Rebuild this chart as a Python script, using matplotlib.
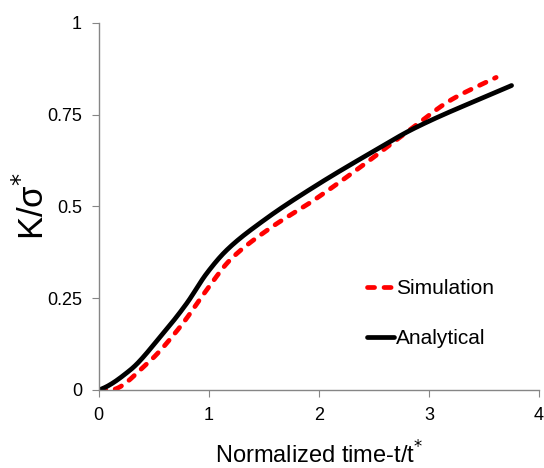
import numpy as np
import matplotlib.pyplot as plt

plt.rcParams['font.family'] = ['Liberation Sans', 'DejaVu Sans']

# values
t_sim = [0.0, 0.1, 0.44, 0.74, 0.98, 1.19, 1.53, 1.95, 2.40, 2.86, 3.19, 3.61]
k_sim = [0.0, 0.0, 0.072, 0.172, 0.272, 0.353, 0.435, 0.516, 0.612, 0.716, 0.788, 0.851]

t_ana = [0.0, 0.285, 0.56, 0.80, 0.98, 1.16, 1.50, 1.95, 2.56, 2.83, 3.75]
k_ana = [0.0, 0.054, 0.145, 0.236, 0.317, 0.38, 0.462, 0.552, 0.661, 0.707, 0.829]

x_ticks = [0, 1, 2, 3, 4]
y_ticks = [0, 0.25, 0.5, 0.75, 1]
y_labels = ['0', '0.25', '0.5', '0.75', '1']


def pchip(xs, ys, n=400):
    # monotone cubic through the read points (Fritsch-Carlson)
    x = np.asarray(xs, float)
    y = np.asarray(ys, float)
    h = np.diff(x)
    d = np.diff(y) / h
    m = np.zeros_like(x)
    for i in range(1, len(x) - 1):
        if d[i - 1] * d[i] > 0:
            w1 = 2 * h[i] + h[i - 1]
            w2 = h[i] + 2 * h[i - 1]
            m[i] = (w1 + w2) / (w1 / d[i - 1] + w2 / d[i])
    m[0] = 0.0 if d[0] == 0 else d[0] * 0.5
    m[-1] = d[-1]
    xx = np.linspace(x[0], x[-1], n)
    idx = np.clip(np.searchsorted(x, xx) - 1, 0, len(x) - 2)
    t = (xx - x[idx]) / h[idx]
    h00 = 2 * t**3 - 3 * t**2 + 1
    h10 = t**3 - 2 * t**2 + t
    h01 = -2 * t**3 + 3 * t**2
    h11 = t**3 - t**2
    yy = (h00 * y[idx] + h10 * h[idx] * m[idx]
          + h01 * y[idx + 1] + h11 * h[idx] * m[idx + 1])
    return xx, yy


fig = plt.figure(figsize=(5.44, 4.68), dpi=100)
ax = fig.add_axes([0.1814, 0.1667, 0.8096, 0.7848])

sx, sy = pchip(t_sim, k_sim)
ax.plot(sx, sy, color='#ff0000', lw=3.4, ls=(0, (1.5, 2.0)),
        dash_capstyle='round', label='Simulation')
bx, by = pchip(t_ana, k_ana)
ax.plot(bx, by, color='black', lw=3.4, solid_capstyle='round', label='Analytical')

ax.set_xlim(0, 4)
ax.set_ylim(0, 1)
ax.set_xticks(x_ticks)
ax.set_yticks(y_ticks)
ax.set_yticklabels(y_labels)
ax.tick_params(direction='out', length=5, color='#868686', labelsize=13, pad=7)

for side in ('top', 'right'):
    ax.spines[side].set_visible(False)
for side in ('left', 'bottom'):
    ax.spines[side].set_color('#868686')
    ax.spines[side].set_linewidth(1)

ax.set_xlabel('Normalized time-t/t$^{*}$', fontsize=17, labelpad=13)
ax.set_ylabel('K/σ$^{*}$', fontsize=25, labelpad=-3)

ax.legend(loc='center left', bbox_to_anchor=(0.566, 0.208), frameon=False,
          fontsize=15, handlelength=1.3, handletextpad=0.1, labelspacing=1.5)

fig.savefig('out.png', dpi=100)
